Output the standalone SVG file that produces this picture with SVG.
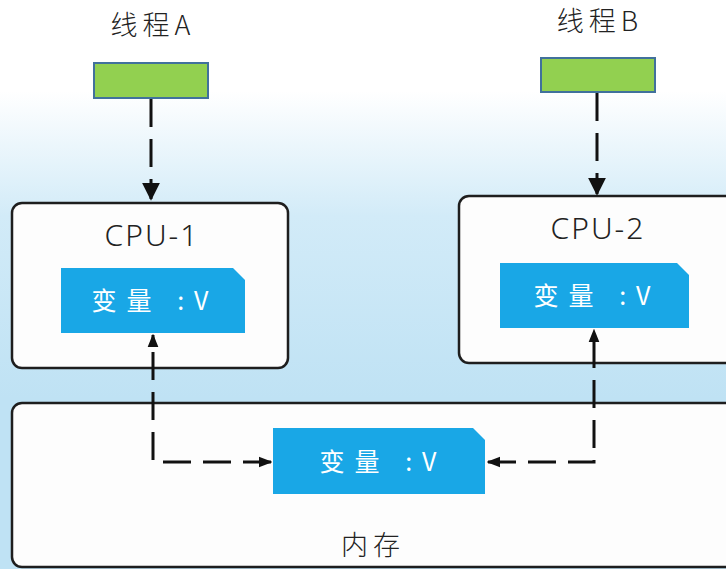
<svg xmlns="http://www.w3.org/2000/svg" width="726" height="569" viewBox="0 0 726 569">
<defs>
<linearGradient id="bg" x1="0" y1="0" x2="0" y2="1">
<stop offset="0" stop-color="#ffffff"/>
<stop offset="0.16" stop-color="#ffffff"/>
<stop offset="0.38" stop-color="#d2ebf8"/>
<stop offset="0.7" stop-color="#bfe2f4"/>
<stop offset="1" stop-color="#bfe2f4"/>
</linearGradient>
<marker id="ah" viewBox="0 0 10 10" refX="9" refY="5" markerWidth="6" markerHeight="6" orient="auto-start-reverse" markerUnits="strokeWidth">
<path d="M0,0 L10,5 L0,10 z" fill="#111"/>
</marker>
<marker id="ahs" viewBox="0 0 10 10" refX="9" refY="5" markerWidth="4.5" markerHeight="4.5" orient="auto-start-reverse" markerUnits="strokeWidth">
<path d="M0,1 L10,5 L0,9 z" fill="#111"/>
</marker>
</defs>
<style>
.lbl{font-family:"Noto Sans CJK SC","Noto Sans",sans-serif;font-size:27px;fill:#222;text-anchor:middle;font-weight:300;letter-spacing:5px}
.cpu{font-family:"Noto Sans","Noto Sans CJK SC",sans-serif;font-size:30px;fill:#222;text-anchor:middle;font-weight:300;letter-spacing:2px}
.var{font-family:"Noto Sans CJK SC",sans-serif;font-size:25px;fill:#fff;text-anchor:middle;letter-spacing:10px}
.box{fill:#fdfdfd;stroke:#1e1e1e;stroke-width:2.5}
.thread{fill:#92d050;stroke:#41719c;stroke-width:2}
.blue{fill:#19a7e6}
.conn{fill:none;stroke:#111;stroke-width:3;stroke-dasharray:28 12}
</style>
<rect x="0" y="0" width="726" height="569" fill="url(#bg)"/>
<g id="threadA">
<text class="lbl" x="153" y="35">线程A</text>
<rect class="thread" x="94" y="63" width="114" height="35"/>
</g>
<g id="threadB">
<text class="lbl" x="600" y="31">线程B</text>
<rect class="thread" x="541" y="58" width="114" height="34"/>
</g>
<g id="cpu1">
<rect class="box" x="12" y="203" width="276" height="165" rx="10"/>
<text class="cpu" x="152" y="246">CPU-1</text>
<g id="cpu1var">
<path class="blue" d="M61,268 H233 L245,280 V333 H61 Z"/>
<text class="var" x="155" y="310">变量 :V</text>
</g>
</g>
<g id="cpu2">
<rect class="box" x="459" y="196" width="290" height="167" rx="10"/>
<text class="cpu" x="598" y="239">CPU-2</text>
<g id="cpu2var">
<path class="blue" d="M500,263 H677 L689,275 V328 H500 Z"/>
<text class="var" x="597" y="305">变量 :V</text>
</g>
</g>
<g id="memory">
<rect class="box" x="12" y="403" width="740" height="164" rx="10"/>
<text class="lbl" x="373" y="555">内存</text>
<g id="memvar">
<path class="blue" d="M273,428 H473 L485,440 V494 H273 Z"/>
<text class="var" x="383" y="471">变量 :V</text>
</g>
</g>
<g id="connectors">
<path class="conn" d="M151,99 V199" marker-end="url(#ah)"/>
<path class="conn" d="M597,93 V194" marker-end="url(#ah)"/>
<path class="conn" d="M271,462 H153 V335" marker-start="url(#ahs)" marker-end="url(#ahs)"/>
<path class="conn" d="M488,462 H594 V330" marker-start="url(#ahs)" marker-end="url(#ahs)"/>
</g>
</svg>
